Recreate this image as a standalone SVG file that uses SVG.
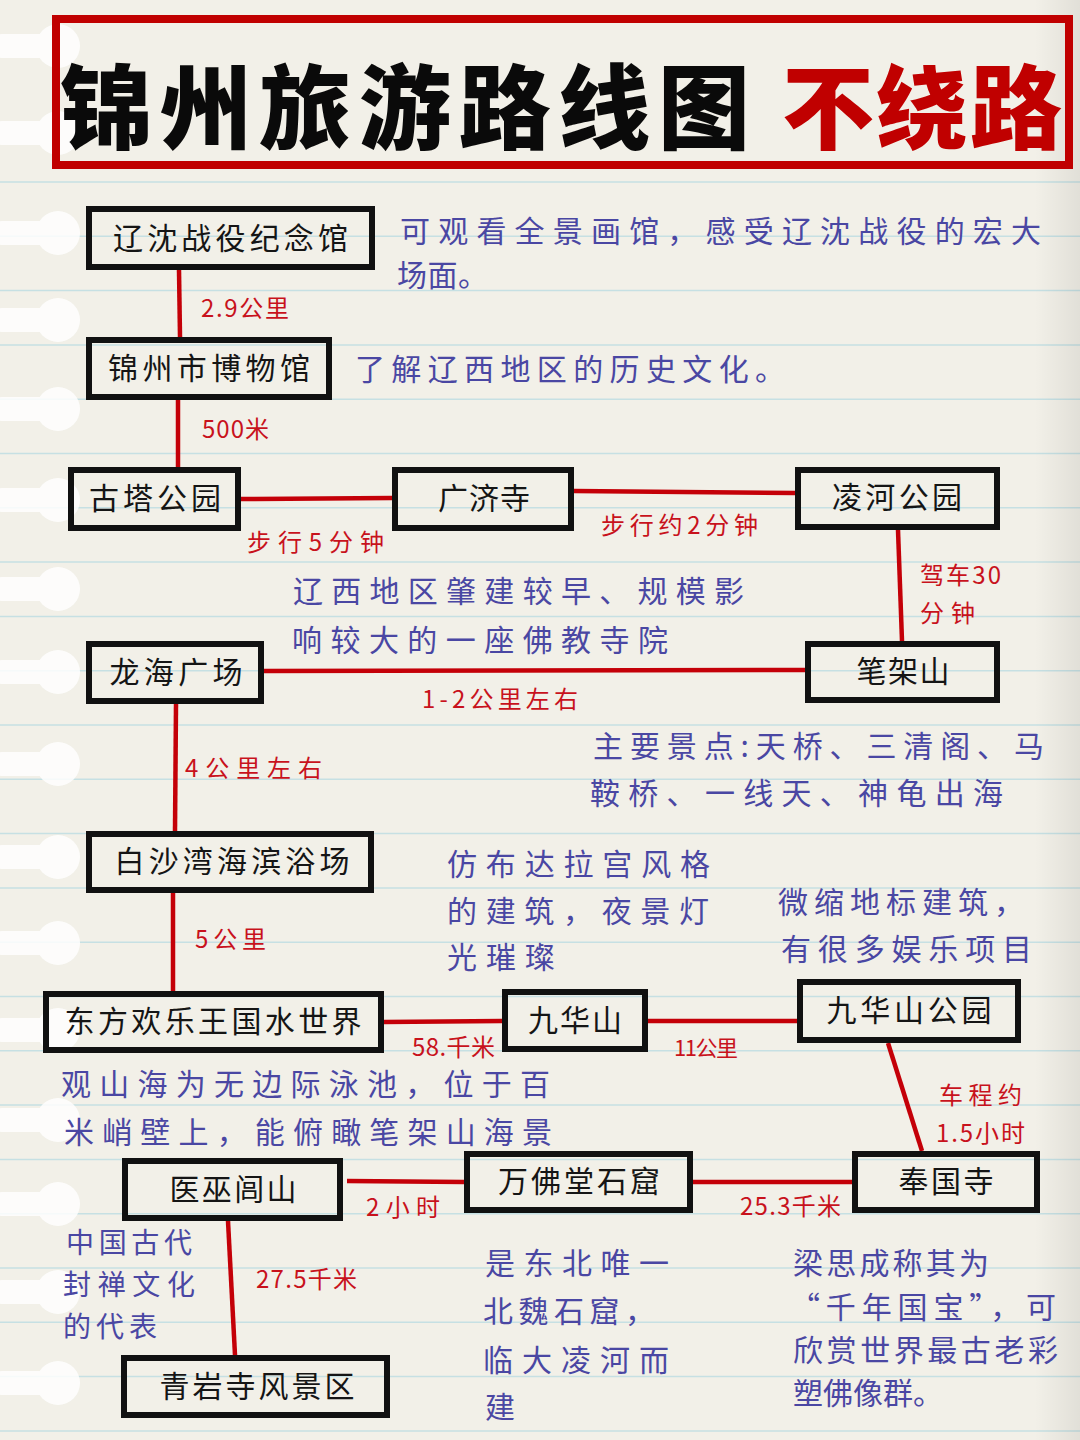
<svg xmlns="http://www.w3.org/2000/svg" xmlns:xlink="http://www.w3.org/1999/xlink" width="1080" height="1440" viewBox="0 0 1080 1440">
<defs>
<style>
.rule{stroke:#c6e0e3;stroke-width:1.5}
.node rect{fill:none;stroke:#111;stroke-width:6}
.node text{font-family:"Noto Sans CJK SC","Noto Sans",sans-serif;font-size:30px;fill:#151515;text-anchor:middle}
.conn line{stroke:#c40008;stroke-width:4.5}
.lbl{font-family:"Noto Sans CJK SC","Noto Sans",sans-serif;font-size:24px;fill:#c8121c}
.desc{font-family:"Noto Sans CJK SC","Noto Sans",sans-serif;font-size:30px;fill:#4a47a3}
.sm{font-size:28px}
.title{font-family:"Noto Sans CJK SC","Noto Sans",sans-serif;font-size:92px;font-weight:900}
</style>
<g id="hole"><rect x="-10" y="-12" width="68" height="24" rx="12" fill="#ffffff"/><circle cx="58" cy="0" r="22" fill="#ffffff"/></g>
<linearGradient id="edge" x1="0" y1="0" x2="1" y2="0"><stop offset="0" stop-color="#000" stop-opacity="0"/><stop offset="1" stop-color="#000" stop-opacity="0.07"/></linearGradient>
</defs>
<rect x="0" y="0" width="1080" height="1440" fill="#f2f0e8"/>
<g id="rules">
<line class="rule" x1="0" y1="182" x2="1080" y2="182"/>
<line class="rule" x1="0" y1="236.3" x2="1080" y2="236.3"/>
<line class="rule" x1="0" y1="290.6" x2="1080" y2="290.6"/>
<line class="rule" x1="0" y1="344.9" x2="1080" y2="344.9"/>
<line class="rule" x1="0" y1="399.2" x2="1080" y2="399.2"/>
<line class="rule" x1="0" y1="453.5" x2="1080" y2="453.5"/>
<line class="rule" x1="0" y1="507.8" x2="1080" y2="507.8"/>
<line class="rule" x1="0" y1="562.1" x2="1080" y2="562.1"/>
<line class="rule" x1="0" y1="616.4" x2="1080" y2="616.4"/>
<line class="rule" x1="0" y1="670.7" x2="1080" y2="670.7"/>
<line class="rule" x1="0" y1="725" x2="1080" y2="725"/>
<line class="rule" x1="0" y1="779.3" x2="1080" y2="779.3"/>
<line class="rule" x1="0" y1="833.6" x2="1080" y2="833.6"/>
<line class="rule" x1="0" y1="887.9" x2="1080" y2="887.9"/>
<line class="rule" x1="0" y1="942.2" x2="1080" y2="942.2"/>
<line class="rule" x1="0" y1="996.5" x2="1080" y2="996.5"/>
<line class="rule" x1="0" y1="1050.8" x2="1080" y2="1050.8"/>
<line class="rule" x1="0" y1="1105.1" x2="1080" y2="1105.1"/>
<line class="rule" x1="0" y1="1159.4" x2="1080" y2="1159.4"/>
<line class="rule" x1="0" y1="1213.7" x2="1080" y2="1213.7"/>
<line class="rule" x1="0" y1="1268" x2="1080" y2="1268"/>
<line class="rule" x1="0" y1="1322.3" x2="1080" y2="1322.3"/>
<line class="rule" x1="0" y1="1376.6" x2="1080" y2="1376.6"/>
<line class="rule" x1="0" y1="1430.9" x2="1080" y2="1430.9"/>
</g>
<g id="holes" opacity="0.85">
<use xlink:href="#hole" href="#hole" y="46"/>
<use xlink:href="#hole" href="#hole" y="133"/>
<use xlink:href="#hole" href="#hole" y="233"/>
<use xlink:href="#hole" href="#hole" y="320"/>
<use xlink:href="#hole" href="#hole" y="409"/>
<use xlink:href="#hole" href="#hole" y="500"/>
<use xlink:href="#hole" href="#hole" y="589"/>
<use xlink:href="#hole" href="#hole" y="672"/>
<use xlink:href="#hole" href="#hole" y="764"/>
<use xlink:href="#hole" href="#hole" y="857"/>
<use xlink:href="#hole" href="#hole" y="943"/>
<use xlink:href="#hole" href="#hole" y="1030"/>
<use xlink:href="#hole" href="#hole" y="1120"/>
<use xlink:href="#hole" href="#hole" y="1204"/>
<use xlink:href="#hole" href="#hole" y="1292"/>
<use xlink:href="#hole" href="#hole" y="1383"/>
</g>
<rect x="1035" y="0" width="45" height="1440" fill="url(#edge)"/>

<g id="title">
<rect x="56" y="19" width="1013" height="146" fill="none" stroke="#c00000" stroke-width="8"/>
<text class="title" x="60" y="142" fill="#0a0a0a" textLength="690" lengthAdjust="spacing">锦州旅游路线图</text>
<text class="title" x="782" y="142" fill="#c00000" textLength="280" lengthAdjust="spacing">不绕路</text>
</g>

<g id="connectors" class="conn">
<line x1="179" y1="270" x2="180" y2="337"/>
<line x1="178" y1="400" x2="178" y2="467"/>
<line x1="241" y1="499" x2="392" y2="498"/>
<line x1="574" y1="491" x2="795" y2="493"/>
<line x1="898" y1="530" x2="902" y2="641"/>
<line x1="264" y1="671" x2="805" y2="670"/>
<line x1="176" y1="704" x2="175" y2="831"/>
<line x1="173" y1="893" x2="173" y2="991"/>
<line x1="384" y1="1022" x2="502" y2="1021"/>
<line x1="648" y1="1021" x2="797" y2="1021"/>
<line x1="888" y1="1043" x2="922" y2="1151"/>
<line x1="347" y1="1181" x2="464" y2="1182"/>
<line x1="693" y1="1182" x2="852" y2="1182"/>
<line x1="228" y1="1221" x2="235" y2="1355"/>
</g>

<g id="n1" class="node"><rect x="89" y="209" width="283" height="58"/><text x="230.5" y="249" textLength="235" lengthAdjust="spacing">辽沈战役纪念馆</text></g>
<g id="n2" class="node"><rect x="89" y="340" width="240" height="57"/><text x="209" y="379" textLength="202" lengthAdjust="spacing">锦州市博物馆</text></g>
<g id="n3" class="node"><rect x="71" y="470" width="167" height="58"/><text x="155" y="509" textLength="132" lengthAdjust="spacing">古塔公园</text></g>
<g id="n4" class="node"><rect x="395" y="470" width="176" height="58"/><text x="484" y="509" textLength="92" lengthAdjust="spacing">广济寺</text></g>
<g id="n5" class="node"><rect x="798" y="470" width="199" height="57"/><text x="897" y="508" textLength="130" lengthAdjust="spacing">凌河公园</text></g>
<g id="n6" class="node"><rect x="89" y="644" width="172" height="57"/><text x="176" y="683" textLength="133" lengthAdjust="spacing">龙海广场</text></g>
<g id="n7" class="node"><rect x="808" y="644" width="189" height="56"/><text x="903" y="682" textLength="93" lengthAdjust="spacing">笔架山</text></g>
<g id="n8" class="node"><rect x="89" y="834" width="282" height="56"/><text x="232" y="872" textLength="235" lengthAdjust="spacing">白沙湾海滨浴场</text></g>
<g id="n9" class="node"><rect x="46" y="994" width="335" height="56"/><text x="213" y="1032" textLength="297" lengthAdjust="spacing">东方欢乐王国水世界</text></g>
<g id="n10" class="node"><rect x="505" y="992" width="140" height="57"/><text x="575" y="1031" textLength="94" lengthAdjust="spacing">九华山</text></g>
<g id="n11" class="node"><rect x="800" y="982" width="218" height="58"/><text x="909" y="1021" textLength="165" lengthAdjust="spacing">九华山公园</text></g>
<g id="n12" class="node"><rect x="125" y="1161" width="215" height="57"/><text x="233" y="1200" textLength="127" lengthAdjust="spacing">医巫闾山</text></g>
<g id="n13" class="node"><rect x="467" y="1154" width="223" height="56"/><text x="579" y="1192" textLength="162" lengthAdjust="spacing">万佛堂石窟</text></g>
<g id="n14" class="node"><rect x="855" y="1154" width="182" height="56"/><text x="946" y="1192" textLength="95" lengthAdjust="spacing">奉国寺</text></g>
<g id="n15" class="node"><rect x="124" y="1358" width="263" height="57"/><text x="257" y="1397" textLength="195" lengthAdjust="spacing">青岩寺风景区</text></g>

<g id="labels">
<text class="lbl" x="201" y="317" textLength="88" lengthAdjust="spacing">2.9公里</text>
<text class="lbl" x="202" y="438" textLength="67" lengthAdjust="spacing">500米</text>
<text class="lbl" x="247" y="551" textLength="137" lengthAdjust="spacing">步行5分钟</text>
<text class="lbl" x="601" y="534" textLength="157" lengthAdjust="spacing">步行约2分钟</text>
<text class="lbl" x="920" y="584" textLength="81" lengthAdjust="spacing">驾车30</text>
<text class="lbl" x="920" y="622" textLength="55" lengthAdjust="spacing">分钟</text>
<text class="lbl" x="422" y="708" textLength="156" lengthAdjust="spacing">1-2公里左右</text>
<text class="lbl" x="185" y="777" textLength="137" lengthAdjust="spacing">4公里左右</text>
<text class="lbl" x="195" y="948" textLength="71" lengthAdjust="spacing">5公里</text>
<text class="lbl" x="412" y="1056" textLength="83" lengthAdjust="spacing">58.千米</text>
<text class="lbl" x="674" y="1056" style="font-size:22px" textLength="64" lengthAdjust="spacing">11公里</text>
<text class="lbl" x="939" y="1104" textLength="83" lengthAdjust="spacing">车程约</text>
<text class="lbl" x="936" y="1142" textLength="89" lengthAdjust="spacing">1.5小时</text>
<text class="lbl" x="366" y="1216" textLength="74" lengthAdjust="spacing">2小时</text>
<text class="lbl" x="740" y="1215" textLength="101" lengthAdjust="spacing">25.3千米</text>
<text class="lbl" x="256" y="1288" textLength="101" lengthAdjust="spacing">27.5千米</text>
</g>

<g id="descriptions">
<text class="desc" x="400" y="242" textLength="641" lengthAdjust="spacing">可观看全景画馆，感受辽沈战役的宏大</text>
<text class="desc" x="397" y="286" textLength="91" lengthAdjust="spacing">场面。</text>
<text class="desc" x="355" y="380" textLength="430" lengthAdjust="spacing">了解辽西地区的历史文化。</text>
<text class="desc" x="293" y="602" textLength="451" lengthAdjust="spacing">辽西地区肇建较早、规模影</text>
<text class="desc" x="292" y="651" textLength="376" lengthAdjust="spacing">响较大的一座佛教寺院</text>
<text class="desc" x="593" y="757" textLength="451" lengthAdjust="spacing">主要景点:天桥、三清阁、马</text>
<text class="desc" x="590" y="804" textLength="413" lengthAdjust="spacing">鞍桥、一线天、神龟出海</text>
<text class="desc" x="447" y="875" textLength="263" lengthAdjust="spacing">仿布达拉宫风格</text>
<text class="desc" x="447" y="922" textLength="262" lengthAdjust="spacing">的建筑，夜景灯</text>
<text class="desc" x="447" y="968" textLength="108" lengthAdjust="spacing">光璀璨</text>
<text class="desc" x="778" y="913" textLength="246" lengthAdjust="spacing">微缩地标建筑，</text>
<text class="desc" x="781" y="960" textLength="251" lengthAdjust="spacing">有很多娱乐项目</text>
<text class="desc" x="61" y="1095" textLength="489" lengthAdjust="spacing">观山海为无边际泳池，位于百</text>
<text class="desc" x="64" y="1143" textLength="488" lengthAdjust="spacing">米峭壁上，能俯瞰笔架山海景</text>
<text class="desc sm" x="66" y="1253" textLength="126" lengthAdjust="spacing">中国古代</text>
<text class="desc sm" x="63" y="1295" textLength="132" lengthAdjust="spacing">封禅文化</text>
<text class="desc sm" x="63" y="1337" textLength="94" lengthAdjust="spacing">的代表</text>
<text class="desc" x="485" y="1274" textLength="184" lengthAdjust="spacing">是东北唯一</text>
<text class="desc" x="483" y="1322" textLength="172" lengthAdjust="spacing">北魏石窟，</text>
<text class="desc" x="483" y="1371" textLength="186" lengthAdjust="spacing">临大凌河而</text>
<text class="desc" x="485" y="1418">建</text>
<text class="desc" x="793" y="1274" textLength="196" lengthAdjust="spacing">梁思成称其为</text>
<text class="desc" x="790" y="1318" textLength="266" lengthAdjust="spacing">“千年国宝”，可</text>
<text class="desc" x="793" y="1361" textLength="265" lengthAdjust="spacing">欣赏世界最古老彩</text>
<text class="desc" x="793" y="1404" textLength="150" lengthAdjust="spacing">塑佛像群。</text>
</g>
</svg>
